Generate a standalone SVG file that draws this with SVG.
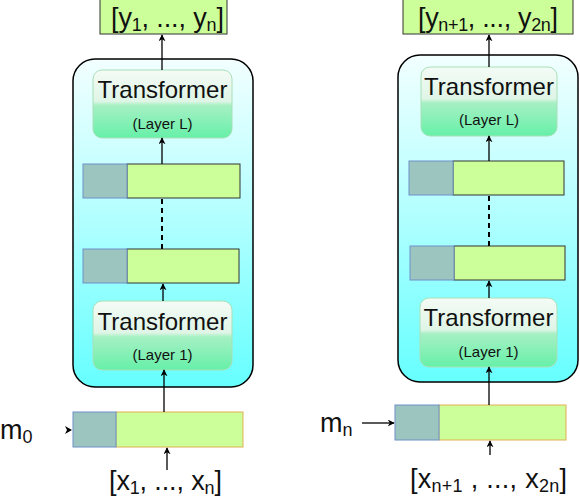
<svg xmlns="http://www.w3.org/2000/svg" width="580" height="500" viewBox="0 0 580 500">
<defs>
  <linearGradient id="outerGrad" x1="0" y1="0" x2="0" y2="1">
    <stop offset="0" stop-color="#f2ffff"/>
    <stop offset="0.5" stop-color="#b0ffff"/>
    <stop offset="1" stop-color="#66ffff"/>
  </linearGradient>
  <linearGradient id="tfGrad" x1="0" y1="0" x2="0" y2="1">
    <stop offset="0" stop-color="#f4fbf6"/>
    <stop offset="0.46" stop-color="#dff5e6"/>
    <stop offset="0.52" stop-color="#a6f0c4"/>
    <stop offset="1" stop-color="#66f0a8"/>
  </linearGradient>
  <marker id="arr" viewBox="0 0 10 10" refX="9" refY="5" markerWidth="7" markerHeight="7" orient="auto-start-reverse" markerUnits="userSpaceOnUse">
    <path d="M0,0 L10,5 L0,10 L3,5 z" fill="#000"/>
  </marker>
  <style>
    .outer{fill:url(#outerGrad);stroke:#000;stroke-width:1.5}
    .tf{fill:url(#tfGrad);stroke:#a8e0b8;stroke-width:1}
    .out{fill:#ccff99;stroke:#333;stroke-width:1}
    .grey{fill:#9cc5c0;stroke:#6f8fc8;stroke-width:1}
    .green{fill:#ccff99;stroke:#333;stroke-width:1}
    .ingreen{fill:#ccff99;stroke:#e0b050;stroke-width:1}
    .conn{stroke:#000;stroke-width:1.3;fill:none}
    .dash{stroke:#000;stroke-width:2;stroke-dasharray:5,4;fill:none}
    .t{font-family:"Liberation Sans",Arial,sans-serif;fill:#111}
    .big{font-size:24px}
    .small{font-size:15px}
    .lab{font-size:27px}
    .sub{font-size:18px}
  </style>
</defs>

<g id="left-stack">
  <rect class="outer" x="73" y="59" width="180" height="328" rx="22"/>
</g>
<g id="left-output">
  <rect class="out" x="100" y="-1" width="127" height="35"/>
  <text class="t lab" x="111" y="27" textLength="113" lengthAdjust="spacing">[y<tspan class="sub" dy="4">1</tspan><tspan dy="-4">, ..., y</tspan><tspan class="sub" dy="4">n</tspan><tspan dy="-4">]</tspan></text>
</g>
<g id="left-transformer-L">
  <rect class="tf" x="93" y="70" width="139" height="68" rx="9"/>
  <text class="t big" x="162.5" y="98" text-anchor="middle">Transformer</text>
  <text class="t small" x="162.5" y="129" text-anchor="middle">(Layer L)</text>
</g>
<g id="left-layer-top">
  <rect class="green" x="127" y="164" width="113" height="34"/>
  <rect class="grey" x="83" y="164" width="44" height="34"/>
</g>
<g id="left-layer-bottom">
  <rect class="green" x="127" y="249" width="112" height="34"/>
  <rect class="grey" x="83" y="249" width="44" height="34"/>
</g>
<g id="left-transformer-1">
  <rect class="tf" x="93" y="301" width="139" height="69" rx="9"/>
  <text class="t big" x="162.5" y="330" text-anchor="middle">Transformer</text>
  <text class="t small" x="162.5" y="360" text-anchor="middle">(Layer 1)</text>
</g>
<g id="left-input">
  <rect class="ingreen" x="116" y="412" width="127" height="35"/>
  <rect class="grey" x="73" y="412" width="43" height="35"/>
</g>
<g id="label-m0">
  <text class="t lab" x="0" y="439">m<tspan class="sub" dy="4">0</tspan></text>
</g>
<g id="label-x-left">
  <text class="t lab" x="109" y="490" textLength="113" lengthAdjust="spacing">[x<tspan class="sub" dy="4">1</tspan><tspan dy="-4">, ..., x</tspan><tspan class="sub" dy="4">n</tspan><tspan dy="-4">]</tspan></text>
</g>

<g id="right-stack">
  <rect class="outer" x="398" y="55" width="180" height="327" rx="22"/>
</g>
<g id="right-output">
  <rect class="out" x="403" y="-1" width="170" height="35"/>
  <text class="t lab" x="418" y="27" textLength="140" lengthAdjust="spacing">[y<tspan class="sub" dy="4">n+1</tspan><tspan dy="-4">, ..., y</tspan><tspan class="sub" dy="4">2n</tspan><tspan dy="-4">]</tspan></text>
</g>
<g id="right-transformer-L">
  <rect class="tf" x="421" y="67" width="136" height="69" rx="9"/>
  <text class="t big" x="489" y="95" text-anchor="middle">Transformer</text>
  <text class="t small" x="489" y="125" text-anchor="middle">(Layer L)</text>
</g>
<g id="right-layer-top">
  <rect class="green" x="453" y="161" width="111" height="34"/>
  <rect class="grey" x="409" y="161" width="44" height="34"/>
</g>
<g id="right-layer-bottom">
  <rect class="green" x="454" y="246" width="111" height="34"/>
  <rect class="grey" x="410" y="246" width="44" height="34"/>
</g>
<g id="right-transformer-1">
  <rect class="tf" x="420" y="298" width="137" height="69" rx="9"/>
  <text class="t big" x="488.5" y="326" text-anchor="middle">Transformer</text>
  <text class="t small" x="488.5" y="357" text-anchor="middle">(Layer 1)</text>
</g>
<g id="right-input">
  <rect class="ingreen" x="439" y="405" width="127" height="35"/>
  <rect class="grey" x="395" y="405" width="44" height="35"/>
</g>
<g id="label-mn">
  <text class="t lab" x="320" y="432">m<tspan class="sub" dy="4">n</tspan></text>
</g>
<g id="label-x-right">
  <text class="t lab" x="410" y="488" textLength="157" lengthAdjust="spacing">[x<tspan class="sub" dy="4">n+1</tspan><tspan dy="-4"> , ..., x</tspan><tspan class="sub" dy="4">2n</tspan><tspan dy="-4">]</tspan></text>
</g>

<g id="connectors">
  <line class="conn" x1="162" y1="70" x2="162" y2="35" marker-end="url(#arr)"/>
  <line class="conn" x1="162" y1="164" x2="162" y2="138" marker-end="url(#arr)"/>
  <line class="dash" x1="162" y1="199" x2="162" y2="249"/>
  <line class="conn" x1="163" y1="301" x2="163" y2="284" marker-end="url(#arr)"/>
  <line class="conn" x1="164" y1="412" x2="164" y2="370" marker-end="url(#arr)"/>
  <line class="conn" x1="167" y1="470" x2="167" y2="448" marker-end="url(#arr)"/>
  <path d="M65,426 L72,430 L65,434 L67,430 z" fill="#000"/>

  <line class="conn" x1="489" y1="67" x2="489" y2="35" marker-end="url(#arr)"/>
  <line class="conn" x1="489" y1="161" x2="489" y2="136" marker-end="url(#arr)"/>
  <line class="dash" x1="489" y1="196" x2="489" y2="246"/>
  <line class="conn" x1="489" y1="298" x2="489" y2="281" marker-end="url(#arr)"/>
  <line class="conn" x1="489" y1="405" x2="489" y2="367" marker-end="url(#arr)"/>
  <line class="conn" x1="490" y1="455" x2="490" y2="441" marker-end="url(#arr)"/>
  <line class="conn" x1="362" y1="423" x2="394" y2="423" marker-end="url(#arr)"/>
</g>
</svg>
